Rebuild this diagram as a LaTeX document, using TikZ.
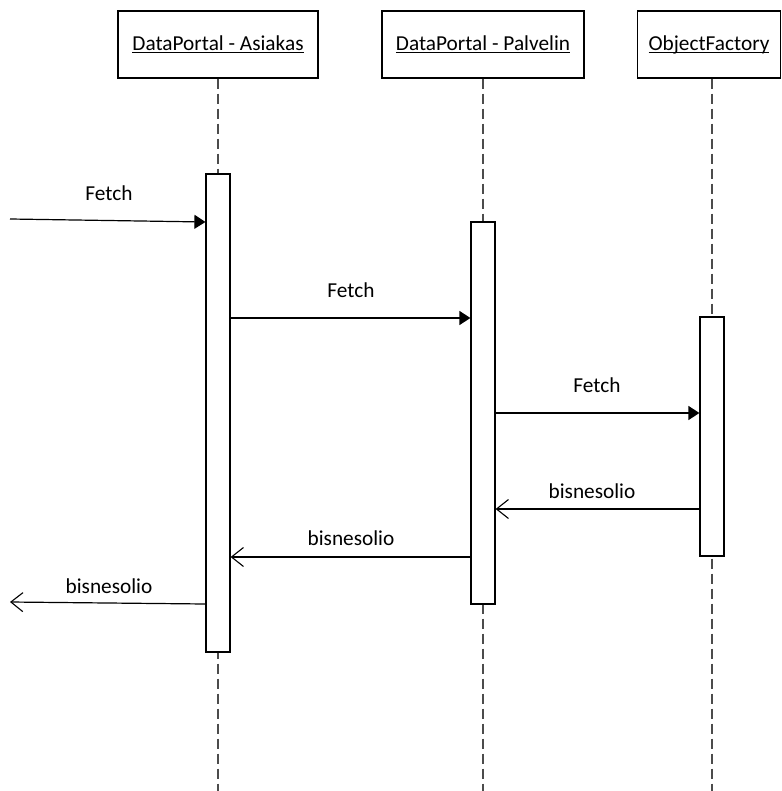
\documentclass[tikz,border=0pt]{standalone}
\usepackage{fontspec}
\setmainfont{Carlito}
\usetikzlibrary{arrows.meta}
\newcommand\myul[1]{\setbox0\hbox{#1}\rlap{\rule[-3pt]{\wd0}{1.2pt}}\box0}
\begin{document}
\begin{tikzpicture}[x=1pt,y=-1pt,
  every node/.style={font=\fontsize{21.3}{25}\selectfont, inner sep=0pt},
  objbox/.style={draw=black, line width=1.2pt, fill=white, minimum height=67pt},
  actbar/.style={draw=black, line width=1.2pt, fill=white, minimum width=24pt},
  lifeline/.style={draw=black!70, line width=1.3pt, dash pattern=on 10pt off 5pt},
  callmsg/.style={draw=black, line width=1.2pt, -{Triangle[length=11pt,width=14pt]}},
  retmsg/.style={draw=black, line width=1.2pt, -{Straight Barb[length=12pt,width=19pt,line width=1.1pt]}},
  lbl/.style={text=black}
]
\useasboundingbox (0,0) rectangle (781,791);
% object boxes
\node[objbox, minimum width=200pt] (o1) at (218,44.5) {\myul{DataPortal - Asiakas}};
\node[objbox, minimum width=202pt] (o2) at (483,44.5) {\myul{DataPortal - Palvelin}};
\node[objbox, minimum width=143pt] (o3) at (709,44.5) {\myul{ObjectFactory}};
% lifeline ends
\coordinate (e1) at (218,791);
\coordinate (e2) at (483,791);
\coordinate (e3) at (712,791);
\draw[lifeline] (o1.south) -- (e1);
\draw[lifeline] (o2.south) -- (e2);
\draw[lifeline] (o3.south -| e3) -- (e3);
% activation bars
\node[actbar, minimum height=478pt] (a1) at (218,413) {};
\node[actbar, minimum height=382pt] (a2) at (483,413) {};
\node[actbar, minimum height=239pt] (a3) at (712,436.5) {};
% free ends
\coordinate (in1) at (10,219);
\coordinate (out1) at (10,602);
% messages
\draw[callmsg] (in1) -- (a1.west |- 0,222);
\node[lbl] (l1) at (109,193) {Fetch};
\draw[callmsg] (a1.east |- 0,318) -- (a2.west |- 0,318);
\node[lbl] (l2) at (351,290) {Fetch};
\draw[callmsg] (a2.east |- 0,413) -- (a3.west |- 0,413);
\node[lbl] (l3) at (597,385) {Fetch};
\draw[retmsg] (a3.west |- 0,509) -- (a2.east |- 0,509);
\node[lbl] (l4) at (592,491) {bisnesolio};
\draw[retmsg] (a2.west |- 0,557) -- (a1.east |- 0,557);
\node[lbl] (l5) at (351,538) {bisnesolio};
\draw[retmsg] (a1.west |- 0,604) -- (out1);
\node[lbl] (l6) at (109,586) {bisnesolio};
\end{tikzpicture}
\end{document}
